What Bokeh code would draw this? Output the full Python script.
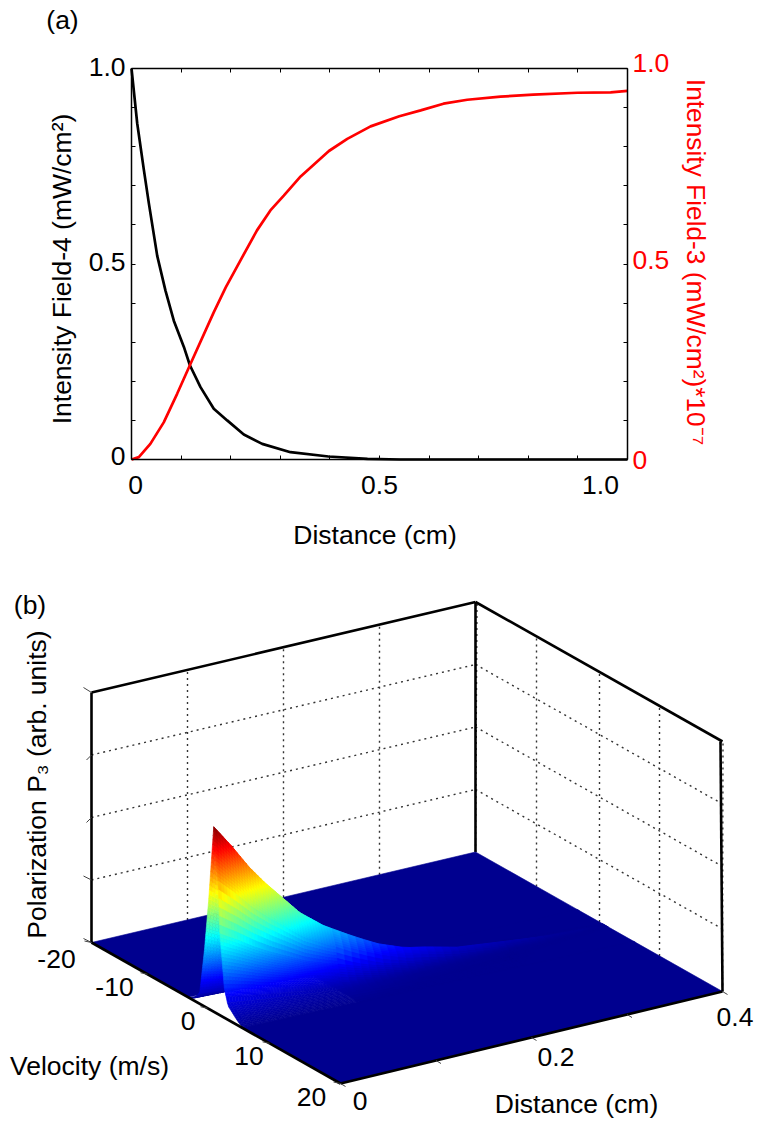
import numpy as np
from bokeh.core.properties import value
from bokeh.embed import file_html
from bokeh.models import FixedTicker, LinearAxis, Range1d
from bokeh.plotting import figure
from bokeh.resources import INLINE

FONT = "Liberation Sans"
FS = "26.5px"

# ---------- panel (a) data ----------
black_x = [0, .0115, .025, .035, .052, .0685, .0853, .1056, .1177, .1391, .1659, .1929, .2264, .2635, .3206, .3972, .4758, .542, 1.0]
black_y = [1, .86, .74, .655, .52, .432, .355, .288, .241, .185, .130, .100, .0639, .040, .0187, .0077, .0018, 0, 0]
red_x = [0, .0148, .038, .065, .092, .1177, .166, .19, .22, .253, .28, .307, .341, .398, .435, .482, .54, .583, .629, .677, .744, .81, .899, .966, 1.0]
red_y = [0, .006, .04, .095, .168, .241, .377, .44, .51, .586, .637, .675, .724, .789, .82, .852, .878, .893, .91, .92, .928, .933, .938, .939, .943]
ticks_a = [round(i * 0.1, 1) for i in range(11)]
bottom_labels_a = ["0", "0.5", "1.0"]
bottom_values_a = [0, 0.5, 1.0]
left_values_a = [0, 0.5, 1.0]
left_labels_a = ["0", "0.5", "1.0"]
right_values_a = [0, 0.5, 1.0]
right_labels_a = ["0", "0.5", "1.0"]

# ---------- panel (b) data ----------
vel_ticks = [-20, -10, 0, 10, 20]
vel_labels = ["-20", "-10", "0", "10", "20"]
dist_ticks = [0, 0.1, 0.2, 0.3, 0.4]
dist_labels = ["0", "0.2", "0.4"]
dist_label_at = [0, 0.2, 0.4]
z_ticks = [0, .25, .5, .75, 1]
# cross-section of the ridge against velocity (fraction of the peak)
profile_v = [-20, -3.0, -2.2, -1.3, -0.5, 0.17, 1, 1.7, 2, 2.7, 3.3, 4.7, 5.5, 20]
profile_p = [0, 0, .015, .06, .31, .58, 1, .72, .44, .16, .076, .027, .005, 0]
# crest height against distance (fraction of the vertical axis)
crest_d = [0, .018, .036, .052, .070, .088, .112, .140, .167, .195, .217, .248, .30, .342, .4]
crest_z = [.74, .648, .548, .472, .396, .32, .248, .184, .128, .088, .072, .044, .024, .008, 0]
# the ridge's relative width against distance
width_d = [0, .12, .25, .4]
width_w = [1, 1, .55, .2]
ridge_centre = 1.0
# jet colour map
jet_at = [0, .125, .375, .625, .875, 1]
jet_r = [0, 0, 0, 255, 255, 128]
jet_g = [0, 0, 255, 255, 0, 0]
jet_b = [143, 255, 255, 0, 0, 0]

# The figure's frame fills the page; its main ranges are page pixels (for the
# projected 3-D panel), the extra ranges are the data scales of panel (a).
W, H = 757, 1123
L_A, R_A, T_A, B_A = 131.0, 627.0, 68.0, 459.0
p = figure(width=W, height=H, x_range=Range1d(0, W), y_range=Range1d(H, 0),
           min_border=0, toolbar_location=None, output_backend="svg",
           x_axis_location=None, y_axis_location=None)
p.outline_line_color = None
p.grid.visible = False
p.extra_x_ranges = {"ax": Range1d((0 - L_A) / (R_A - L_A), (W - L_A) / (R_A - L_A))}
p.extra_y_ranges = {"ay": Range1d((B_A - H) / (B_A - T_A), (B_A - 0) / (B_A - T_A))}
RN = dict(x_range_name="ax", y_range_name="ay")


def make_axis(loc):
    ax = LinearAxis(ticker=FixedTicker(ticks=ticks_a), fixed_location=loc, bounds=(0, 1), **RN)
    ax.major_tick_in = 4
    ax.major_tick_out = 0
    ax.minor_tick_line_color = None
    ax.axis_line_width = 1.5
    ax.major_tick_line_width = 1
    ax.major_label_overrides = {t: "" for t in ticks_a}
    return ax


p.add_layout(make_axis(0), "left")
p.add_layout(make_axis(1), "right")
p.add_layout(make_axis(0), "below")
p.add_layout(make_axis(1), "above")

p.line(black_x, black_y, line_color="#000000", line_width=2.7, **RN)
p.line(red_x, red_y, line_color="#ff0000", line_width=2.7, **RN)


def txt(x, y, s, angle=0.0, color="#000000", size=FS, align="center", **kw):
    p.text([float(x)], [float(y)], text=[s], text_font=value(FONT), text_font_size=value(size),
           text_color=color, text_align=align, text_baseline="middle", angle=angle, **kw)


for v, t, dx in zip(bottom_values_a, bottom_labels_a, [4, 0, -27]):
    txt(v, 0, t, x_offset=dx, y_offset=25, **RN)
for v, t, dy in zip(left_values_a, left_labels_a, [-4, -2, -2]):
    txt(0, v, t, align="right", x_offset=-6, y_offset=dy, **RN)
for v, t, dy in zip(right_values_a, right_labels_a, [0, -4, -6]):
    txt(1, v, t, color="#ff0000", align="left", x_offset=5, y_offset=dy, **RN)
txt(374.5, 534, "Distance (cm)")
txt(62, 19, "(a)")
txt(61, 268.5, "Intensity Field-4 (mW/cm²)", angle=np.pi / 2, size="26.5px")
txt(695, 261.5, "Intensity Field-3 (mW/cm²)*10⁻⁷", angle=-np.pi / 2, color="#ff0000", size="26.3px")

# ---------- panel (b) ----------
A = np.array([91.0, 942.0])    # v=-20, d=0
B = np.array([340.0, 1083.0])  # v=+20, d=0
C = np.array([722.0, 991.0])   # v=+20, d=0.4
D = np.array([475.0, 851.5])   # v=-20, d=0.4
Z_PX = 250.0
T_FRONT = [0, .225, .466, .715, 1]
T_BACK = [0, .247, .502, .745, 1]


def proj(v, d, z=0.0):
    v, d, z = np.asarray(v, float), np.asarray(d, float), np.asarray(z, float)
    f = d / 0.4
    t = np.interp(v, vel_ticks, T_FRONT) * (1 - f) + np.interp(v, vel_ticks, T_BACK) * f
    x0 = A[0] + (B[0] - A[0]) * t
    x1 = D[0] + (C[0] - D[0]) * t
    y0 = A[1] + (B[1] - A[1]) * t
    y1 = D[1] + (C[1] - D[1]) * t
    return x0 + (x1 - x0) * f, y0 + (y1 - y0) * f - z * Z_PX


def seg(pairs, color="#000000", width=1.0, dash="solid"):
    p.multi_line([[float(a[0]), float(b[0])] for a, b in pairs],
                 [[float(a[1]), float(b[1])] for a, b in pairs],
                 line_color=color, line_width=width, line_dash=dash)


grid = []
for z in z_ticks[1:-1]:
    grid.append((proj(-20, 0, z), proj(-20, .4, z)))
    grid.append((proj(-20, .4, z), proj(20, .4, z)))
for d in dist_ticks[1:-1]:
    grid.append((proj(-20, d, 0), proj(-20, d, 1)))
for v in vel_ticks[1:-1]:
    grid.append((proj(v, .4, 0), proj(v, .4, 1)))
grid.append((proj(-20, .4, 0), (D[0] + 1.5, D[1] - Z_PX)))
grid.append((proj(20, .4, 0), (C[0] + .5, C[1] - Z_PX)))
seg(grid, "#333333", 1.4, "2 4")

seg([(proj(-20, 0, 1), proj(-20, .4, 1)), (proj(-20, .4, 1), proj(20, .4, 1)),
     (proj(-20, 0, 0), proj(-20, 0, 1)), (proj(-20, .4, 0), proj(-20, .4, 1)),
     (proj(20, .4, 0), (proj(20, .4, 1)[0] - 2, proj(20, .4, 1)[1]))], "#000000", 2.6)


def jet(vals):
    r = np.interp(vals, jet_at, jet_r).astype(int)
    g = np.interp(vals, jet_at, jet_g).astype(int)
    b = np.interp(vals, jet_at, jet_b).astype(int)
    return ["#%02x%02x%02x" % c for c in zip(r.tolist(), g.tolist(), b.tolist())]


# mesh refinement of the read-off sections
v_fine = np.concatenate([np.arange(-3.2, -1.5, 0.2), np.arange(-1.5, 3.0, 0.05), np.arange(3.0, 6.01, 0.2)])
v_coarse = np.concatenate([np.arange(-3.2, -1.0, 0.4), np.arange(-1.0, 4.0, 0.1), np.arange(4.0, 6.01, 0.4)])
d_mesh = np.concatenate([np.arange(0, 0.12, 0.003), np.arange(0.12, 0.4001, 0.008)])
peak = max(crest_z)
xs, ys, vals = [], [], []


def add_quad(v0, v1, d0, d1, z00, z10, z01, z11):
    X, Y = proj([v0, v1, v1, v0], [d0, d0, d1, d1], [z00, z10, z11, z01])
    xs.append(X.tolist())
    ys.append(Y.tolist())
    vals.append((z00 + z10 + z01 + z11) / 4 / peak)


def section(v, d):
    w = np.interp(d, width_d, width_w)
    return np.interp(ridge_centre + (v - ridge_centre) / w, profile_v, profile_p) * np.interp(d, crest_d, crest_z)


add_quad(-20, v_fine[0], 0, .4, 0, 0, 0, 0)
for j in range(len(d_mesh) - 2, -1, -1):
    d0, d1 = d_mesh[j], d_mesh[j + 1]
    v_mesh = v_coarse if d0 >= 0.1199 else v_fine
    z0, z1 = section(v_mesh, d0), section(v_mesh, d1)
    for i in range(len(v_mesh) - 1):
        if max(z0[i], z0[i + 1], z1[i], z1[i + 1]) < 1e-4:
            continue
        add_quad(v_mesh[i], v_mesh[i + 1], d0, d1, z0[i], z0[i + 1], z1[i], z1[i + 1])
# floor under the thin part of the ridge is painted first, so insert it at the start
xs_floor, ys_floor = proj([v_fine[0] - .3, 6.0, 6.0, v_fine[0] - .3], [0.12, 0.12, .4, .4])
xs.insert(1, xs_floor.tolist())
ys.insert(1, ys_floor.tolist())
vals.insert(1, 0.0)
add_quad(5.7, 20, 0, .4, 0, 0, 0, 0)
cols = jet(vals)
p.patches(xs, ys, fill_color=cols, line_color=cols, line_width=0.6)

seg([(proj(-20, 0), proj(20, 0)), (proj(20, 0), proj(20, .4))], "#000000", 2.7)

# tick marks
tk = []
for v in vel_ticks:
    x, y = proj(v, 0)
    tk.append(((x, y), (x - 7, y - 1.5)))
for d in dist_ticks:
    x, y = proj(20, d)
    tk.append(((x, y), (x + 5, y + 3)))
for z, dx, dy in zip(z_ticks, [-8, -8, -5, -5, -8], [-4, -4, 5, 5, -5]):
    x, y = proj(-20, 0, z)
    tk.append(((x, y), (x + dx, y + dy)))
seg(tk, "#444444", 1.0)

for v, s, dx, dy in zip(vel_ticks, vel_labels, [-35, -33, -19.5, -20.5, -29], [16, 13, 13, 13, 13]):
    x, y = proj(v, 0)
    txt(x + dx, y + dy, s)
for d, s, dx, dy in zip(dist_label_at, dist_labels, [19.5, 24.5, 12.5], [17, 19, 25]):
    x, y = proj(20, d)
    txt(x + dx, y + dy, s)
txt(89, 1065, "Velocity (m/s)")
txt(576, 1103, "Distance (cm)")
txt(29.5, 604, "(b)")
txt(36, 784, "Polarization P₃ (arb. units)", angle=np.pi / 2)

open("out.html", "w").write(file_html(p, INLINE))
